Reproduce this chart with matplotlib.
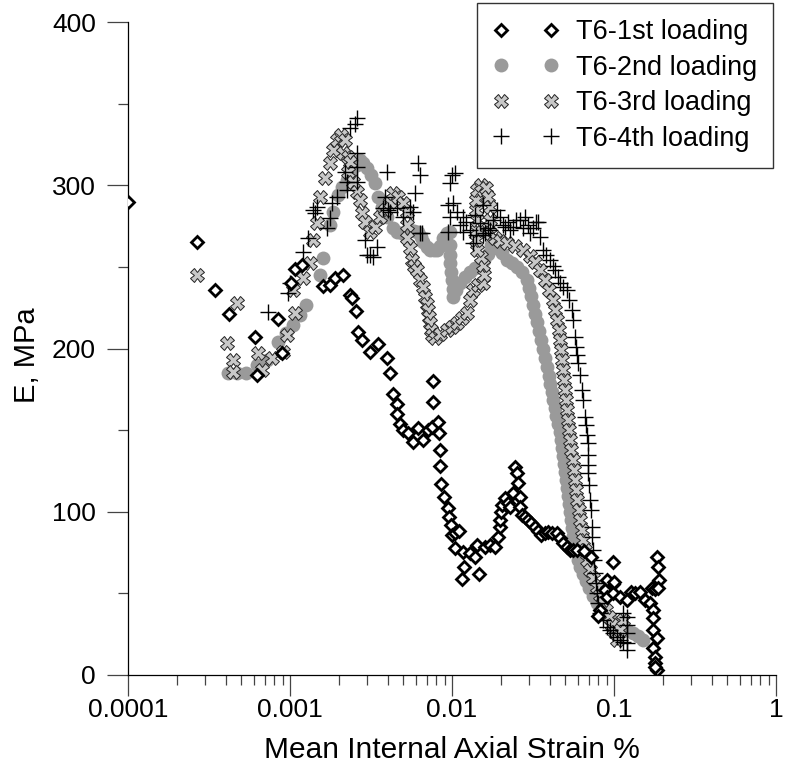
import matplotlib
matplotlib.use("Agg")
import matplotlib.pyplot as plt
from matplotlib.ticker import FixedLocator, LogLocator, NullFormatter, FixedFormatter

plt.rcParams['font.family'] = ['Liberation Sans', 'DejaVu Sans']

# ---------------- data: (strain %, E MPa) ----------------
load1 = [
    (1.0e-4, 290), (2.66e-4, 265), (3.44e-4, 236), (4.2e-4, 221), (6.08e-4, 207), (6.3e-4, 184),
    (8.47e-4, 218), (8.95e-4, 197), (1.01e-3, 240), (1.07e-3, 249), (1.18e-3, 251), (1.6e-3, 238),
    (1.77e-3, 239), (1.9e-3, 243), (2.11e-3, 245), (2.35e-3, 233), (2.4e-3, 231), (2.55e-3, 223),
    (2.63e-3, 210), (2.8e-3, 205), (3.12e-3, 198), (3.5e-3, 203), (3.95e-3, 194), (4.14e-3, 185),
    (4.34e-3, 172), (4.55e-3, 166), (4.6e-3, 160), (4.78e-3, 154), (5.0e-3, 150), (5.37e-3, 148),
    (5.78e-3, 143), (6.2e-3, 151), (6.65e-3, 144), (7.14e-3, 150), (7.5e-3, 152), (7.67e-3, 180),
    (7.67e-3, 167), (8.23e-3, 155), (8.37e-3, 148), (8.43e-3, 138), (8.45e-3, 128), (8.6e-3, 117),
    (8.96e-3, 109), (9.4e-3, 102), (9.6e-3, 97), (9.8e-3, 92), (1.0e-2, 86), (1.045e-2, 87),
    (1.1e-2, 88), (1.045e-2, 78), (1.17e-2, 75.5), (1.18e-2, 66), (1.16e-2, 59), (1.29e-2, 75),
    (1.38e-2, 72.5), (1.42e-2, 79.6), (1.47e-2, 62), (1.598e-2, 78.4), (1.717e-2, 79.6),
    (1.843e-2, 78.4), (1.923e-2, 84.5), (1.978e-2, 90.7), (1.978e-2, 94.9), (2.007e-2, 99.8),
    (2.035e-2, 104.1), (2.124e-2, 108.4), (2.216e-2, 105.4), (2.28e-2, 102.9), (2.38e-2, 111.5),
    (2.448e-2, 127.4), (2.509e-2, 123.7), (2.555e-2, 117.6), (2.63e-2, 109.0), (2.63e-2, 102.9),
    (2.705e-2, 98.0), (2.822e-2, 96.8), (2.944e-2, 94.9), (3.074e-2, 93.1), (3.253e-2, 90.7),
    (3.396e-2, 88.2), (3.543e-2, 85.8), (3.75e-2, 87.0), (3.914e-2, 87.6), (4.143e-2, 87.0),
    (4.43e-2, 87.0), (4.642e-2, 83.9), (4.844e-2, 80.9), (5.128e-2, 78.4), (5.35e-2, 76.6),
    (5.584e-2, 76.6), (5.89e-2, 76.6), (6.5e-2, 76), (7.2e-2, 72),
    (0.099, 69), (0.099, 56), (0.09, 58), (0.088, 52), (0.082, 40), (0.080, 36), (0.091, 48),
    (0.099, 50), (0.1, 57), (0.109, 48), (0.12, 46), (0.128, 51), (0.135, 50), (0.145, 51),
    (0.155, 46), (0.167, 44), (0.175, 40), (0.184, 72.5), (0.187, 66), (0.19, 58), (0.172, 53),
    (0.178, 52.5), (0.186, 53), (0.175, 35), (0.175, 27.6), (0.184, 22.5), (0.175, 16.3),
    (0.179, 11.2), (0.179, 7.2), (0.184, 3), (0.178, 5),
]

load2 = [
    (4.14e-4, 185.0), (4.71e-4, 185.0), (5.35e-4, 185.0), (6.23e-4, 189.9), (7.18e-4, 193.0),
    (8.43e-4, 204.0), (9.45e-4, 209.5), (1.04e-3, 214.4), (1.15e-3, 220.5), (1.256e-3, 226.6),
    (1.53e-3, 245.0), (1.606e-3, 255.4), (1.77e-3, 275.7), (1.843e-3, 283.6), (1.98e-3, 294.0),
    (2.094e-3, 298.9), (2.24e-3, 303.2), (2.38e-3, 308.1), (2.58e-3, 312.4), (2.70e-3, 315.5),
    (2.82e-3, 313.6), (2.976e-3, 310.6), (3.16e-3, 306.3), (3.35e-3, 301.4), (3.49e-3, 292.8),
    (3.70e-3, 286.7), (3.97e-3, 280.6), (4.32e-3, 273.8), (4.58e-3, 271.4), (4.91e-3, 270.8),
    (5.20e-3, 271.4), (5.51e-3, 272.6), (5.83e-3, 272.0), (6.17e-3, 271.4), (6.44e-3, 268.3),
    (6.62e-3, 265.2), (7.01e-3, 262.2), (7.31e-3, 260.3), (7.74e-3, 260.3), (8.08e-3, 260.3),
    (8.43e-3, 262.8), (8.80e-3, 267.7), (9.31e-3, 270.8), (9.71e-3, 271.4), (9.71e-3, 263.4),
    (9.71e-3, 257.3), (9.71e-3, 252.4), (9.86e-3, 246.9), (1.0e-2, 242.0), (1.014e-2, 236.5),
    (1.014e-2, 231.5), (1.058e-2, 235.8), (1.12e-2, 240.1), (1.20e-2, 243.8), (1.29e-2, 246.9),
    (1.39e-2, 249.3), (1.49e-2, 251.2), (1.576e-2, 254.2), (1.67e-2, 257.9), (1.74e-2, 263.4),
    (1.816e-2, 263.4), (1.896e-2, 261.6), (2.035e-2, 258.5), (2.185e-2, 254.2), (2.347e-2, 252.4),
    (2.52e-2, 249.9), (2.705e-2, 246.9), (2.904e-2, 242.0), (2.988e-2, 237.1), (3.074e-2, 232.2),
    (3.162e-2, 226.6), (3.253e-2, 221.1), (3.347e-2, 216.2), (3.443e-2, 210.7), (3.543e-2, 205.2),
    (3.645e-2, 199.7), (3.75e-2, 194.2), (3.858e-2, 188.7), (3.97e-2, 183.2), (4.055e-2, 178.3),
    (4.143e-2, 173.4), (4.231e-2, 168.5), (4.323e-2, 163.6), (4.416e-2, 158.7), (4.511e-2, 153.8),
    (4.609e-2, 148.9), (4.707e-2, 144.0), (4.775e-2, 139.1), (4.844e-2, 134.2), (4.914e-2, 129.3),
    (4.983e-2, 124.4), (5.055e-2, 119.4), (5.128e-2, 114.5), (5.20e-2, 109.6), (5.275e-2, 104.7),
    (5.35e-2, 99.8), (5.427e-2, 94.9), (5.503e-2, 90.0), (5.623e-2, 85.1), (5.745e-2, 80.2),
    (5.868e-2, 75.3), (5.995e-2, 70.4), (6.167e-2, 66.2), (6.436e-2, 61.9), (6.717e-2, 57.6),
    (7.01e-2, 53.3), (7.421e-2, 48.4), (7.855e-2, 44.1), (8.315e-2, 40.4), (8.926e-2, 36.8),
    (9.583e-2, 33.7), (0.1029, 31.2), (0.1105, 29.4), (0.1203, 27.6), (0.131, 25.7),
    (0.1406, 23.9), (0.151, 21.4),
]

load3 = [
    (2.656e-4, 245.0), (4.69e-4, 227.7), (4.07e-4, 203.2), (4.467e-4, 193.0), (4.467e-4, 185.8),
    (6.37e-4, 197.1), (6.69e-4, 186.8), (7.71e-4, 194.0), (9.09e-4, 198.0), (9.54e-4, 208.3),
    (1.074e-3, 221.6), (1.048e-3, 235.8), (1.208e-3, 243.0), (1.33e-3, 252.2), (1.392e-3, 266.5),
    (1.462e-3, 276.7), (1.532e-3, 293.0), (1.644e-3, 304.3), (1.766e-3, 313.6), (1.843e-3, 321.6),
    (1.95e-3, 327.7), (2.065e-3, 330.8), (2.186e-3, 327.7), (2.125e-3, 319.8), (2.28e-3, 317.3),
    (2.347e-3, 314.2), (2.28e-3, 308.1), (2.448e-3, 302.0), (2.592e-3, 295.9), (2.705e-3, 291.0),
    (2.783e-3, 283.0), (2.904e-3, 277.5), (3.118e-3, 271.4), (3.347e-3, 274.4), (3.594e-3, 280.6),
    (3.858e-3, 284.8), (4.143e-3, 289.7), (4.323e-3, 295.3), (4.642e-3, 292.8), (4.983e-3, 289.1),
    (5.275e-3, 283.6), (5.275e-3, 275.7), (5.275e-3, 267.7), (5.505e-3, 261.6), (5.664e-3, 254.2),
    (5.827e-3, 250.5), (6.081e-3, 248.1), (6.347e-3, 242.0), (6.623e-3, 237.7), (6.813e-3, 231.5),
    (7.01e-3, 227.3), (7.11e-3, 223.6), (7.212e-3, 219.3), (7.315e-3, 215.6), (7.421e-3, 211.3),
    (7.526e-3, 208.3), (7.855e-3, 206.4), (8.43e-3, 208.9), (9.314e-3, 211.3), (1.0e-2, 213.2),
    (1.074e-2, 215.6), (1.153e-2, 218.7), (1.238e-2, 221.7), (1.292e-2, 229.7), (1.348e-2, 235.8),
    (1.447e-2, 238.9), (1.554e-2, 240.1), (1.576e-2, 245.0), (1.554e-2, 251.1), (1.51e-2, 256.0),
    (1.427e-2, 260.3), (1.407e-2, 266.5), (1.427e-2, 272.6), (1.427e-2, 278.7), (1.407e-2, 284.8),
    (1.407e-2, 291.0), (1.427e-2, 297.1), (1.51e-2, 300.2), (1.622e-2, 298.3), (1.668e-2, 292.8),
    (1.717e-2, 286.7), (1.717e-2, 278.7), (1.717e-2, 270.8), (1.843e-2, 267.7), (1.978e-2, 265.8),
    (2.185e-2, 264.6), (2.448e-2, 262.8), (2.744e-2, 260.3), (3.03e-2, 256.6), (3.253e-2, 252.9),
    (3.493e-2, 248.1), (3.75e-2, 242.0), (3.97e-2, 235.8), (4.203e-2, 229.7), (4.323e-2, 223.6),
    (4.447e-2, 217.5), (4.575e-2, 211.3), (4.642e-2, 205.2), (4.707e-2, 199.1), (4.775e-2, 193.0),
    (4.844e-2, 186.8), (4.914e-2, 180.7), (4.983e-2, 174.6), (5.055e-2, 168.5), (5.128e-2, 162.3),
    (5.2e-2, 156.2), (5.275e-2, 150.1), (5.35e-2, 144.0), (5.427e-2, 137.8), (5.584e-2, 131.7),
    (5.664e-2, 125.6), (5.745e-2, 119.4), (5.827e-2, 113.3), (5.91e-2, 107.2), (6.081e-2, 101.1),
    (6.167e-2, 94.9), (6.347e-2, 88.8), (6.436e-2, 82.7), (6.623e-2, 76.6), (6.813e-2, 70.4),
    (7.11e-2, 64.3), (7.421e-2, 59.4), (7.855e-2, 53.9), (8.197e-2, 49.0), (8.554e-2, 44.1),
    (8.926e-2, 39.8), (9.314e-2, 35.5), (9.72e-2, 30.6), (0.1014, 26.3), (0.1044, 21.4),
    (0.1089, 27.6), (0.1136, 33.7),
]

load4 = [
    (7.35e-4, 222.5), (9.76e-4, 233.8), (1.0e-3, 239.9), (1.208e-3, 259.3), (1.297e-3, 267.5),
    (1.392e-3, 284.8), (1.462e-3, 286.9), (1.427e-3, 282.8), (1.685e-3, 273.6), (1.766e-3, 279.8),
    (1.809e-3, 288.9), (1.942e-3, 293.0), (2.186e-3, 308.3), (2.239e-3, 302.2), (2.239e-3, 297.1),
    (2.58e-3, 311.4), (2.58e-3, 302.2), (2.58e-3, 319.6), (2.347e-3, 335.1), (2.518e-3, 337.5),
    (2.592e-3, 341.2), (2.904e-3, 266.5), (2.976e-3, 257.3), (3.118e-3, 257.3), (3.268e-3, 256.2),
    (3.43e-3, 262.4), (3.766e-3, 285.9), (3.858e-3, 293.0), (3.954e-3, 308.3), (4.045e-3, 284.8),
    (4.143e-3, 283.8), (4.557e-3, 285.9), (5.005e-3, 280.7), (5.505e-3, 286.9), (5.77e-3, 283.8),
    (5.91e-3, 295.1), (6.194e-3, 313.4), (6.347e-3, 306.3), (6.347e-3, 270.6), (6.5e-3, 270.6),
    (9.49e-3, 287.9), (9.49e-3, 271.5), (9.71e-3, 301.2), (9.71e-3, 280.7), (9.96e-3, 306.3),
    (1.019e-2, 288.9), (1.042e-2, 307.3), (1.069e-2, 283.8), (1.12e-2, 275.7), (1.169e-2, 280.6),
    (1.169e-2, 271.4), (1.22e-2, 277.5), (1.292e-2, 272.6), (1.348e-2, 264.6), (1.387e-2, 281.8),
    (1.407e-2, 269.5), (1.489e-2, 276.9), (1.554e-2, 287.9), (1.554e-2, 269.5), (1.598e-2, 270.8),
    (1.668e-2, 273.8), (1.717e-2, 272.6), (1.791e-2, 278.7), (1.887e-2, 284.8), (1.978e-2, 280.7),
    (2.064e-2, 275.7), (2.124e-2, 274.6), (2.216e-2, 277.5), (2.28e-2, 272.6), (2.38e-2, 274.6),
    (2.484e-2, 278.7), (2.63e-2, 278.7), (2.744e-2, 273.8), (2.822e-2, 280.7), (2.944e-2, 275.7),
    (3.03e-2, 270.6), (3.162e-2, 273.8), (3.3e-2, 277.5), (3.41e-2, 277.7), (3.493e-2, 268.5),
    (3.645e-2, 260.3), (3.804e-2, 257.3), (4.027e-2, 254.2), (4.203e-2, 250.5), (4.323e-2, 248.1),
    (4.511e-2, 243.8), (4.642e-2, 239.9), (4.844e-2, 237.7), (5.105e-2, 235.8), (5.275e-2, 229.7),
    (5.482e-2, 223.6), (5.584e-2, 217.5), (5.745e-2, 207.2), (5.827e-2, 200.9), (5.91e-2, 196.0),
    (6.02e-2, 190.9), (6.167e-2, 183.8), (6.318e-2, 174.6), (6.436e-2, 168.5), (6.623e-2, 158.2),
    (6.717e-2, 153.1), (6.813e-2, 147.0), (6.94e-2, 141.9), (6.94e-2, 134.8), (6.94e-2, 128.6),
    (6.94e-2, 123.6), (7.01e-2, 116.4), (7.11e-2, 107.2), (7.212e-2, 101.1), (7.284e-2, 90.8),
    (7.315e-2, 84.5), (7.451e-2, 76.6), (7.526e-2, 70.4), (7.634e-2, 62.3), (7.743e-2, 56.4),
    (7.821e-2, 50.0), (7.966e-2, 44.1), (8.197e-2, 37.8), (8.554e-2, 33.7), (9.01e-2, 29.6),
    (9.448e-2, 27.6), (9.9e-2, 25.5), (0.1044, 23.3), (0.1089, 21.4), (0.1136, 20.2),
    (0.1198, 19.4), (0.1198, 15.3), (0.1141, 37.8), (0.1198, 35.7), (0.1203, 30.6), (0.1203, 25.7),
]

labels = ['T6-1st loading', 'T6-2nd loading', 'T6-3rd loading', 'T6-4th loading']
x_ticks = [1e-4, 1e-3, 1e-2, 1e-1, 1]
x_ticklabels = ['0.0001', '0.001', '0.01', '0.1', '1']
y_ticks = [0, 100, 200, 300, 400]
y_minor = [50, 150, 250, 350]


def split(pairs):
    return [p[0] for p in pairs], [p[1] for p in pairs]


s1_x, s1_y = split(load1)
s2_x, s2_y = split(load2)
s3_x, s3_y = split(load3)
s4_x, s4_y = split(load4)

# ---------------- figure ----------------
W, H = 787, 773
fig = plt.figure(figsize=(W / 100, H / 100), dpi=100)
ax = fig.add_axes([128 / W, 1 - 675 / H, (776 - 128) / W, (675 - 22) / H])

h2, = ax.plot(s2_x, s2_y, linestyle='none', marker='o', ms=10, mfc='#9a9a9a', mec='#9a9a9a',
              mew=0, label=labels[1], zorder=2)
h3, = ax.plot(s3_x, s3_y, linestyle='none', marker='X', ms=10, mfc='#c8c8c8', mec='#222222',
              mew=0.7, label=labels[2], zorder=3)
h4, = ax.plot(s4_x, s4_y, linestyle='none', marker='+', ms=12, mec='black', mew=1.0,
              label=labels[3], zorder=4)
h1, = ax.plot(s1_x, s1_y, linestyle='none', marker='D', ms=6.5, mfc='white', mec='black',
              mew=2.0, label=labels[0], zorder=5)

ax.set_xscale('log')
ax.set_xlim(1e-4, 1)
ax.set_ylim(0, 400)
ax.xaxis.set_major_locator(FixedLocator(x_ticks))
ax.xaxis.set_major_formatter(FixedFormatter(x_ticklabels))
ax.xaxis.set_minor_locator(LogLocator(base=10, subs=range(2, 10)))
ax.xaxis.set_minor_formatter(NullFormatter())
ax.yaxis.set_major_locator(FixedLocator(y_ticks))
ax.yaxis.set_minor_locator(FixedLocator(y_minor))

for s in ['top', 'right']:
    ax.spines[s].set_visible(False)
for s in ['left', 'bottom']:
    ax.spines[s].set_linewidth(0.9)

ax.tick_params(axis='both', which='major', direction='out', length=15, width=0.9,
               labelsize=19, color='#444444')
ax.tick_params(axis='both', which='minor', direction='out', length=7.5, width=0.9,
               color='#444444')
ax.tick_params(axis='y', which='major', pad=8)
ax.tick_params(axis='x', which='major', pad=1.5)

ax.set_xlabel('Mean Internal Axial Strain %', fontsize=21.5)
ax.set_ylabel('E, MPa', fontsize=21)
ax.xaxis.set_label_coords(0.5, -0.093)
ax.yaxis.set_label_coords(-0.135, 0.49)

leg = fig.legend(handles=[h1, h2, h3, h4], labels=labels, loc='upper right',
                 bbox_to_anchor=(773 / W, 1 - 3 / H), bbox_transform=fig.transFigure,
                 numpoints=2, fontsize=19.5, frameon=True, fancybox=False, shadow=False,
                 handlelength=2.44, handletextpad=0.6, labelspacing=0.35, borderpad=0.6,
                 borderaxespad=0)
leg.get_frame().set_edgecolor('black')
leg.get_frame().set_linewidth(1.0)

fig.savefig('out.png', dpi=100)
